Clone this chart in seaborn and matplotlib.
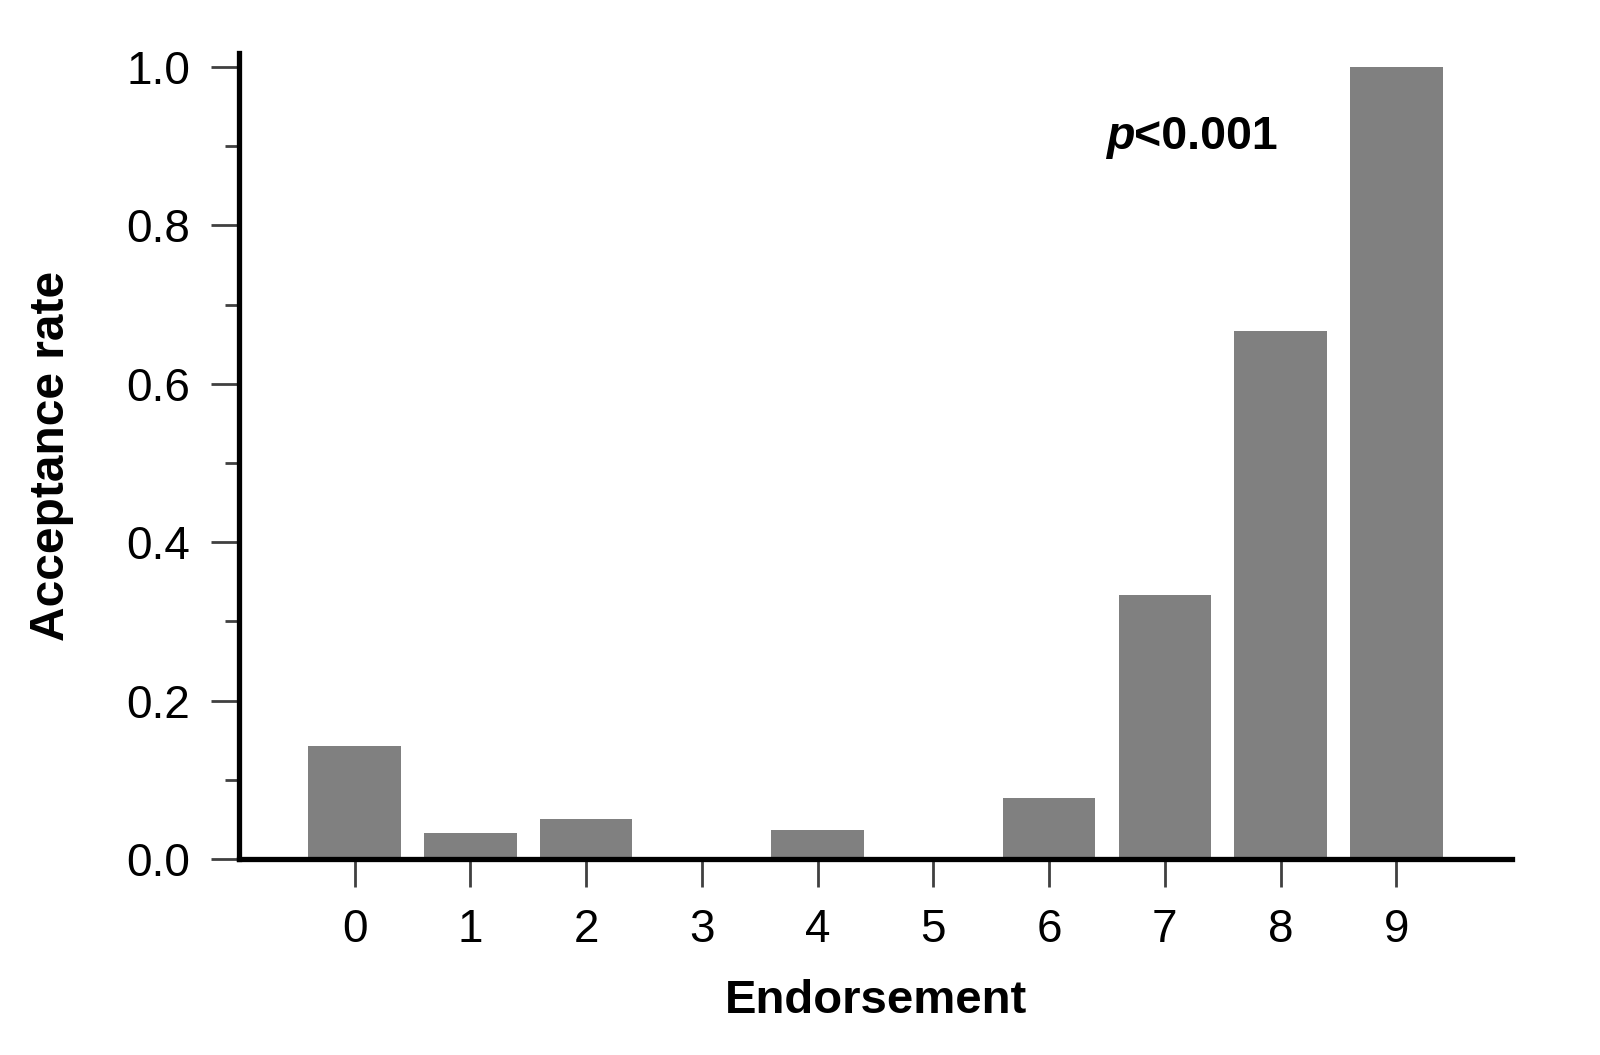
import matplotlib
matplotlib.use("Agg")
import matplotlib.pyplot as plt
import seaborn as sns
import pandas as pd
from matplotlib.ticker import MultipleLocator

endorsement = [0, 1, 2, 3, 4, 5, 6, 7, 8, 9]
acceptance_rate = [0.143, 0.033, 0.050, 0.0, 0.037, 0.0, 0.077, 0.333, 0.667, 1.0]
y_ticks = [0.0, 0.2, 0.4, 0.6, 0.8, 1.0]

sns.set_style("ticks")
plt.rcParams['font.family'] = ['Liberation Sans', 'DejaVu Sans']
plt.rcParams['text.color'] = 'black'
plt.rcParams['axes.labelcolor'] = 'black'

df = pd.DataFrame({"Endorsement": endorsement, "Acceptance rate": acceptance_rate})

fig = plt.figure(figsize=(16, 10.55), dpi=100)
ax = fig.add_axes([239/1600, 1 - 859/1055, (1512-239)/1600, (859-52.7)/1055])

sns.barplot(data=df, x="Endorsement", y="Acceptance rate", color="#808080",
            saturation=1, width=0.8, ax=ax, edgecolor="none", errorbar=None)

ax.set_xlim(-1, 10)
ax.set_ylim(0, 1.018)
ax.set_yticks(y_ticks)
ax.set_yticklabels([f"{v:.1f}" for v in y_ticks])
ax.yaxis.set_minor_locator(MultipleLocator(0.1))

for side in ["top", "right"]:
    ax.spines[side].set_visible(False)
for side in ["left", "bottom"]:
    ax.spines[side].set_linewidth(3.8)
    ax.spines[side].set_color("black")

ax.tick_params(axis="both", which="major", direction="out", length=20, width=2.0,
               color="#404040", labelsize=33, pad=15, labelcolor="black")
ax.tick_params(axis="y", which="minor", direction="out", length=10, width=2.0,
               color="#404040")

ax.set_xlabel("Endorsement", fontsize=34, fontweight="bold", labelpad=20, color="black")
ax.set_ylabel("Acceptance rate", fontsize=34.5, fontweight="bold", labelpad=38, color="black")

t = ax.text(6.49, 0.896, "p", fontsize=33.5, fontweight="bold", fontstyle="italic",
            ha="left", va="baseline", color="black")
ax.annotate("<0.001", xy=(1, 0), xycoords=t, fontsize=33.5, fontweight="bold",
            ha="left", va="bottom", color="black")

fig.savefig("out.png", dpi=100)
